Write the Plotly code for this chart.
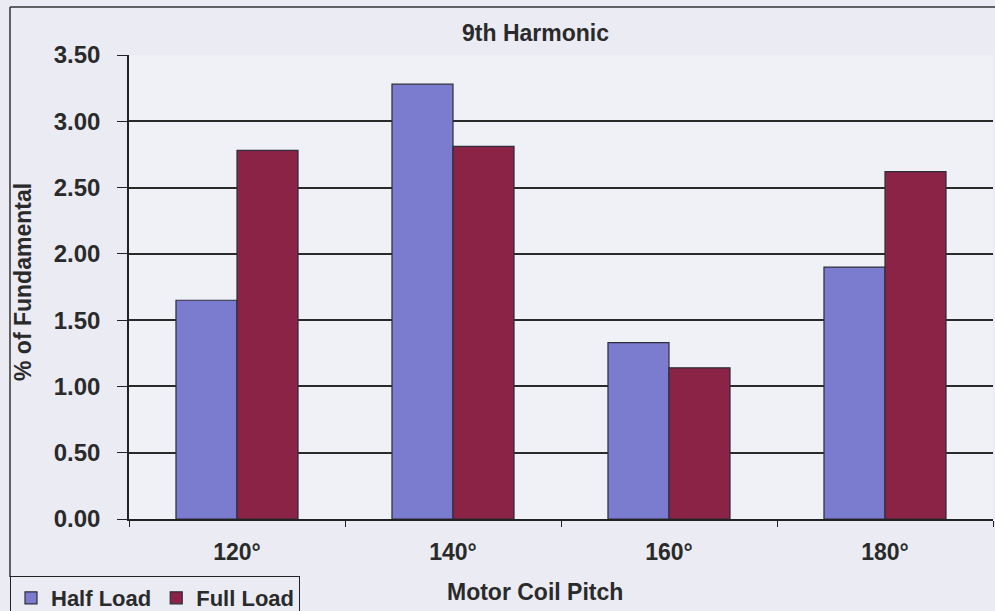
import plotly.graph_objects as go

categories = ["120°", "140°", "160°", "180°"]
half_load = [1.65, 3.28, 1.33, 1.90]
full_load = [2.78, 2.81, 1.14, 2.62]
y_ticks = [0, 0.5, 1.0, 1.5, 2.0, 2.5, 3.0, 3.5]
y_tick_text = ["0.00", "0.50", "1.00", "1.50", "2.00", "2.50", "3.00", "3.50"]

W, H = 995, 611
L, R, T, B = 129, 2, 55, 92
PW, PH = W - L - R, H - T - B

def px(x):
    return (x - L) / PW

def py(y):
    return 1 - (y - T) / PH

FONT = "Liberation Sans, Arial, sans-serif"
TXT = "#2a2a2a"

fig = go.Figure()
fig.add_trace(go.Bar(x=categories, y=half_load, name="Half Load",
                     marker=dict(color="#7b7bd0", line=dict(color="#2e2e3a", width=1.2))))
fig.add_trace(go.Bar(x=categories, y=full_load, name="Full Load",
                     marker=dict(color="#8a2346", line=dict(color="#2e2e3a", width=1.2))))

fig.update_layout(
    width=W, height=H,
    margin=dict(l=L, r=R, t=T, b=B, autoexpand=False),
    paper_bgcolor="#ebebf3",
    plot_bgcolor="#f0f0f7",
    barmode="group", bargap=0.435, bargroupgap=0,
    font=dict(family=FONT, color=TXT),
    showlegend=True,
    legend=dict(orientation="h", x=px(10), xanchor="left", y=py(576), yanchor="top",
                bgcolor="#ebebf3", bordercolor="#222", borderwidth=1,
                font=dict(size=22, family=FONT, color=TXT, weight="bold"),
                itemwidth=30, tracegroupgap=0, traceorder="normal"),
    xaxis=dict(showgrid=False, showline=True, linecolor="#222", linewidth=1.5,
               ticks="outside", tickson="boundaries", ticklen=6, tickcolor="#222",
               tickfont=dict(size=23, family=FONT, color=TXT, weight="bold"),
               ticklabelstandoff=12),
    yaxis=dict(range=[0, 3.5], tickvals=y_ticks, ticktext=y_tick_text,
               showgrid=True, gridcolor="#2a2a2a", gridwidth=1.5,
               showline=True, linecolor="#222", linewidth=1.5,
               ticks="outside", ticklen=10, tickcolor="#222",
               tickfont=dict(size=24, family=FONT, color=TXT, weight="bold"),
               ticklabelstandoff=12, zeroline=False),
    annotations=[
        dict(text="9th Harmonic", x=px(535), y=py(33), xref="paper", yref="paper",
             xanchor="center", yanchor="middle",
             showarrow=False, font=dict(size=23, family=FONT, color=TXT, weight="bold")),
        dict(text="% of Fundamental", x=px(23), y=py(282), xref="paper", yref="paper",
             xanchor="center", yanchor="middle", textangle=-90, showarrow=False,
             font=dict(size=23, family=FONT, color=TXT, weight="bold")),
        dict(text="Motor Coil Pitch", x=px(535), y=py(592), xref="paper", yref="paper",
             xanchor="center", yanchor="middle",
             showarrow=False, font=dict(size=23, family=FONT, color=TXT, weight="bold")),
    ],
    shapes=[
        dict(type="line", xref="paper", yref="paper", x0=px(10), x1=px(995), y0=py(7), y1=py(7),
             line=dict(color="#333", width=1.5)),
        dict(type="line", xref="paper", yref="paper", x0=px(10), x1=px(10), y0=py(7), y1=py(577),
             line=dict(color="#333", width=1.5)),
    ],
)

fig.write_html("out.html", config={"displayModeBar": False},
               post_script="document.body.style.margin='0';document.body.style.overflow='hidden';")
